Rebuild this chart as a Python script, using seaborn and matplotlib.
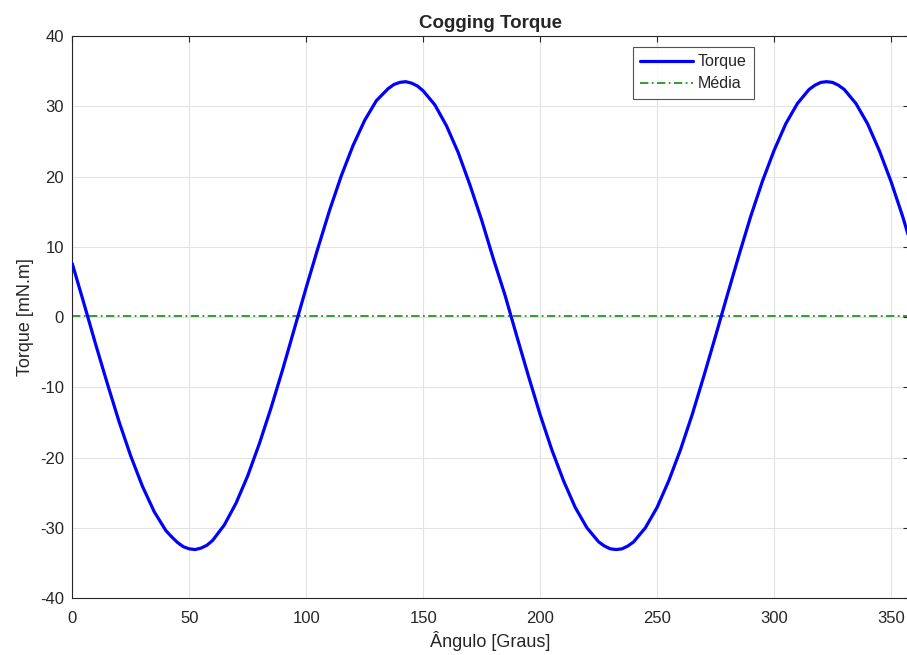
import matplotlib
matplotlib.use('Agg')
import matplotlib.pyplot as plt
import seaborn as sns
import pandas as pd

# angle in degrees, torque (mN.m)
angulo = [0, 5, 10, 15, 20, 25, 30, 35, 40, 42.5, 45, 47.5, 50, 52.5, 55, 57.5, 60,
          65, 70, 75, 80, 85, 90, 95, 100, 105, 110, 115, 120, 125, 130, 135, 137.5,
          140, 142.5, 145, 147.5, 150, 155, 160, 165, 170, 175, 180, 185, 190, 195,
          200, 205, 210, 215, 220, 225, 227.5, 230, 232.5, 235, 237.5, 240, 245, 250,
          255, 260, 265, 270, 275, 280, 285, 290, 295, 300, 305, 310, 315, 317.5, 320,
          322.5, 325, 327.5, 330, 335, 340, 345, 350, 355, 357.5]
torque = [7.6, 1.9, -3.9, -9.5, -14.9, -19.8, -24.1, -27.7, -30.4, -31.3, -32.1, -32.7,
          -33.0, -33.1, -32.9, -32.5, -31.8, -29.6, -26.5, -22.6, -18.0, -12.9, -7.4,
          -1.6, 4.2, 9.8, 15.2, 20.1, 24.4, 28.0, 30.8, 32.5, 33.1, 33.4, 33.5, 33.3,
          32.9, 32.2, 30.2, 27.2, 23.4, 18.8, 13.8, 8.3, 3.1, -2.7, -8.4, -13.9, -18.9,
          -23.3, -27.1, -30.0, -32.0, -32.6, -33.0, -33.1, -33.0, -32.6, -32.0, -30.0,
          -27.1, -23.3, -18.9, -13.9, -8.4, -2.7, 3.1, 8.8, 14.3, 19.3, 23.7, 27.5, 30.4,
          32.4, 33.0, 33.4, 33.5, 33.4, 33.0, 32.4, 30.4, 27.5, 23.7, 19.3, 14.3, 11.5]
media = 0.1

xticks = [0, 50, 100, 150, 200, 250, 300, 350]
yticks = [-40, -30, -20, -10, 0, 10, 20, 30, 40]

df = pd.DataFrame({'angulo': angulo, 'torque': torque})

sns.set_style('white')
plt.rcParams['font.family'] = ['Liberation Sans', 'DejaVu Sans']
plt.rcParams['axes.unicode_minus'] = False

fig = plt.figure(figsize=(9.07, 6.55), dpi=100)
ax = fig.add_axes([0.0797, 0.087, 0.922, 0.858])

sns.lineplot(data=df, x='angulo', y='torque', ax=ax, color='#0000ff',
             linewidth=2.3, label='Torque', zorder=3)
ax.lines[0].set_solid_joinstyle('round')
ax.axhline(media, color='#008000', linewidth=1.1,
           linestyle=(0, (5.5, 2.2, 1.2, 2.2)), label='Média', zorder=2)

ax.set_xlim(0, 357.5)
ax.set_ylim(-40, 40)
ax.set_xticks(xticks)
ax.set_yticks(yticks)
ax.tick_params(direction='in', length=4, width=0.8, colors='#262626',
               labelsize=12, top=True, right=True, pad=6)
ax.tick_params(axis='x', pad=9)
for lab in ax.get_xticklabels() + ax.get_yticklabels():
    lab.set_color('#262626')
ax.grid(True, color='#e3e3e3', linewidth=0.8)
for s in ax.spines.values():
    s.set_color('#262626')
    s.set_linewidth(0.8)

ax.set_title('Cogging Torque', fontsize=13.5, fontweight='bold', pad=6)
ax.set_xlabel('Ângulo [Graus]', fontsize=13, color='#262626', labelpad=4)
ax.set_ylabel('Torque [mN.m]', fontsize=13, color='#262626', labelpad=4)

leg = ax.legend(loc='upper left', bbox_to_anchor=(633 / 907, 1 - 47 / 655),
                bbox_transform=fig.transFigure, fontsize=11.5, frameon=True,
                fancybox=False, edgecolor='#262626', handlelength=3.3,
                handletextpad=0.3, borderpad=0.45, labelspacing=0.45,
                borderaxespad=0)
leg.get_frame().set_linewidth(0.8)

fig.savefig('out.png', dpi=100)
